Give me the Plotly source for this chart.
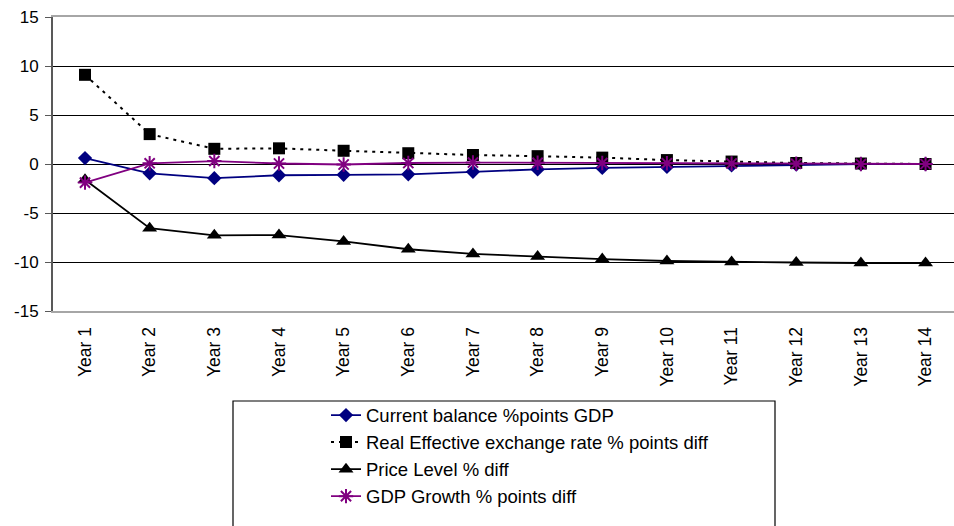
import plotly.graph_objects as go

years = ["Year %d" % i for i in range(1, 15)]
current_balance = [0.6, -0.95, -1.45, -1.15, -1.1, -1.05, -0.8, -0.55, -0.4, -0.3, -0.15, -0.05, -0.02, 0.0]
reer = [9.1, 3.05, 1.55, 1.6, 1.35, 1.1, 0.92, 0.8, 0.65, 0.4, 0.25, 0.1, 0.05, 0.0]
price_level = [-1.6, -6.55, -7.28, -7.25, -7.9, -8.7, -9.18, -9.45, -9.7, -9.9, -10.0, -10.05, -10.1, -10.1]
gdp_growth = [-1.9, 0.07, 0.3, 0.05, -0.05, 0.1, 0.15, 0.12, 0.1, 0.08, 0.05, 0.02, 0.0, 0.0]
y_ticks = [-15, -10, -5, 0, 5, 10, 15]
y_ticktext = ["-15", "-10", "-5", "0", "5", "10", "15"]

names = ["Current balance %points GDP",
         "Real Effective exchange rate % points diff",
         "Price Level % diff",
         "GDP Growth % points diff"]

FONT = "Liberation Sans, Arial, sans-serif"
W, H = 954, 526
L, R, T, B = 53, 0, 17, 215
pw, ph = W - L - R, H - T - B

def px_x(p):
    return (p - L) / pw

def px_y(p):
    return (H - B - p) / ph

xs = list(range(len(years)))
xr = [-0.495, 13.44]

fig = go.Figure()
fig.add_trace(go.Scatter(x=xs, y=current_balance, name=names[0], legendgroup="a",
                         mode="lines+markers", line=dict(color="#000080", width=1.8),
                         marker=dict(symbol="diamond", size=11, color="#000080")))
fig.add_trace(go.Scatter(x=xs, y=reer, name=names[1], legendgroup="b",
                         mode="lines+markers", line=dict(color="black", width=2, dash="3px,5px"),
                         marker=dict(symbol="square", size=12, color="black")))
fig.add_trace(go.Scatter(x=xs, y=price_level, name=names[2], legendgroup="c",
                         mode="lines+markers", line=dict(color="black", width=1.8),
                         marker=dict(symbol="triangle-up", size=13, color="black")))
fig.add_trace(go.Scatter(x=xs, y=gdp_growth, name=names[3], legendgroup="d",
                         mode="lines+markers", line=dict(color="#800080", width=1.8),
                         marker=dict(symbol="asterisk-open", size=12, color="#800080",
                                     line=dict(color="#800080", width=2))))

fig.update_layout(
    template="none",
    width=W, height=H,
    margin=dict(l=L, r=R, t=T, b=B, autoexpand=False),
    paper_bgcolor="white", plot_bgcolor="white",
    font=dict(family=FONT, size=17, color="black"),
    showlegend=True,
    legend=dict(x=px_x(326), y=px_y(396.5), xanchor="left", yanchor="top",
                bgcolor="rgba(0,0,0,0)", borderwidth=0,
                font=dict(family=FONT, size=18.5, color="black"),
                traceorder="grouped", tracegroupgap=0),
    xaxis=dict(range=xr, tickmode="array", tickvals=xs, ticktext=years,
               tickangle=-90, showgrid=False, zeroline=False, automargin=False,
               showline=True, linecolor="#a6a6a6", linewidth=2, mirror=True,
               ticks="", tickfont=dict(size=17.5), ticklabelstandoff=7),
    xaxis2=dict(range=xr, overlaying="x", anchor="free", position=0.5, side="bottom",
                tickmode="array", tickvals=[i + 0.5 for i in xs[:-1]], automargin=False,
                ticks="outside", ticklen=5, tickcolor="black", tickwidth=1,
                showticklabels=False, showgrid=False, zeroline=False, showline=False),
    yaxis=dict(range=[-15, 15], tickmode="array", tickvals=y_ticks, ticktext=y_ticktext,
               showgrid=True, gridcolor="black", gridwidth=1, automargin=False,
               zeroline=True, zerolinecolor="black", zerolinewidth=1.2,
               showline=True, linecolor="#595959", linewidth=2,
               ticks="outside", ticklen=6, tickcolor="#595959",
               tickfont=dict(size=17), ticklabelstandoff=3),
    shapes=[dict(type="rect", xref="paper", yref="paper",
                 x0=px_x(233), x1=px_x(775), y0=px_y(540), y1=px_y(401),
                 line=dict(color="black", width=1.2), fillcolor="rgba(0,0,0,0)",
                 layer="above")],
)

fig.write_html("out.html", config={"displayModeBar": False},
               post_script="document.body.style.margin='0';document.body.style.overflow='hidden';")
